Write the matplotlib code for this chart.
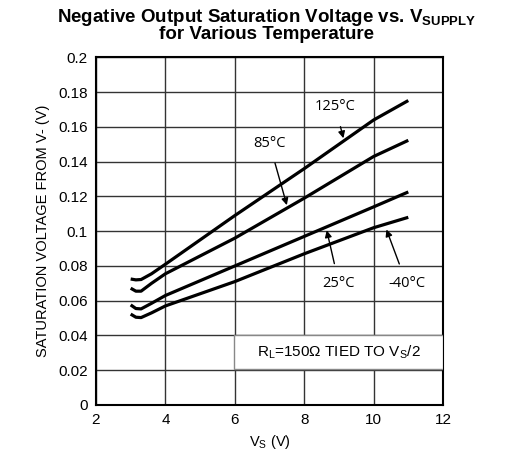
import numpy as np
import matplotlib.pyplot as plt

plt.rcParams['font.family'] = ['Liberation Sans', 'DejaVu Sans']

# supply voltage (V)
vs = [3.0, 3.15, 3.3, 3.6, 4.0, 6.0, 8.0, 10.0, 11.0]

# saturation voltage from V- (V), one list per temperature
sat_125 = [0.0725, 0.0720, 0.0722, 0.0755, 0.0810, 0.1090, 0.1360, 0.1640, 0.1752]
sat_85 = [0.0672, 0.0655, 0.0655, 0.0700, 0.0755, 0.0960, 0.1190, 0.1430, 0.1523]
sat_25 = [0.0576, 0.0555, 0.0553, 0.0585, 0.0630, 0.0800, 0.0970, 0.1140, 0.1226]
sat_m40 = [0.0523, 0.0505, 0.0503, 0.0530, 0.0570, 0.0710, 0.0870, 0.1020, 0.1080]

labels = ['125°C', '85°C', '25°C', '-40°C']
# (text x, text y, arrow tip x, arrow tip y)
label_pos = [(8.9, 0.1715, 9.13, 0.1535),
             (7.0, 0.1505, 7.5, 0.1150),
             (9.0, 0.0700, 8.65, 0.1005),
             (10.95, 0.0700, 10.37, 0.1010)]

fig = plt.figure(figsize=(5.16, 4.69), dpi=100)
ax = fig.add_axes([0.186, 0.1365, 0.6725, 0.741])

for ys in [sat_125, sat_85, sat_25, sat_m40]:
    ax.plot(vs, ys, color='black', lw=2.3, solid_capstyle='butt', zorder=3)

for lab, (tx, ty, px, py) in zip(labels, label_pos):
    ax.annotate(lab, xy=(px, py), xytext=(tx, ty), ha='center', va='center',
                fontsize=10.5, family='Open Sans', zorder=5,
                arrowprops=dict(arrowstyle='-|>', color='black', lw=1,
                                mutation_scale=10, shrinkA=7, shrinkB=0))

ax.set_xlim(2, 12)
ax.set_ylim(0, 0.2)
ax.set_xticks(np.arange(2, 13, 2))
ax.set_yticks(np.arange(0, 0.201, 0.02))
ax.set_xticklabels(['2', '4', '6', '8', '10', '12'])
ax.set_yticklabels(['0', '0.02', '0.04', '0.06', '0.08', '0.1', '0.12',
                    '0.14', '0.16', '0.18', '0.2'])
ax.grid(True, color='#333333', lw=1)
ax.tick_params(length=0, labelsize=11, pad=6)
for s in ax.spines.values():
    s.set_linewidth(1.5)

ax.set_xlabel('V$_\\mathregular{S}$ (V)', fontsize=10.5, labelpad=4)
ax.set_ylabel('SATURATION VOLTAGE FROM V- (V)', fontsize=10.5, labelpad=6)

# note box, covering the grid
ax.add_patch(plt.Rectangle((5.98, 0.0208), 6.02, 0.0192, fc='white',
                           ec='#888888', lw=1, zorder=4))
ax.text(9.0, 0.0305, 'R$_\\mathregular{L}$=150Ω TIED TO V$_\\mathregular{S}$/2',
        fontsize=11, va='center', ha='center', zorder=6)

fig.text(0.516, 0.963, 'Negative Output Saturation Voltage vs. V$_\\mathregular{SUPPLY}$',
         ha='center', va='center', fontsize=13.5, fontweight='bold')
fig.text(0.516, 0.926, 'for Various Temperature', ha='center', va='center',
         fontsize=13.5, fontweight='bold')

fig.savefig('out.png', dpi=100)
